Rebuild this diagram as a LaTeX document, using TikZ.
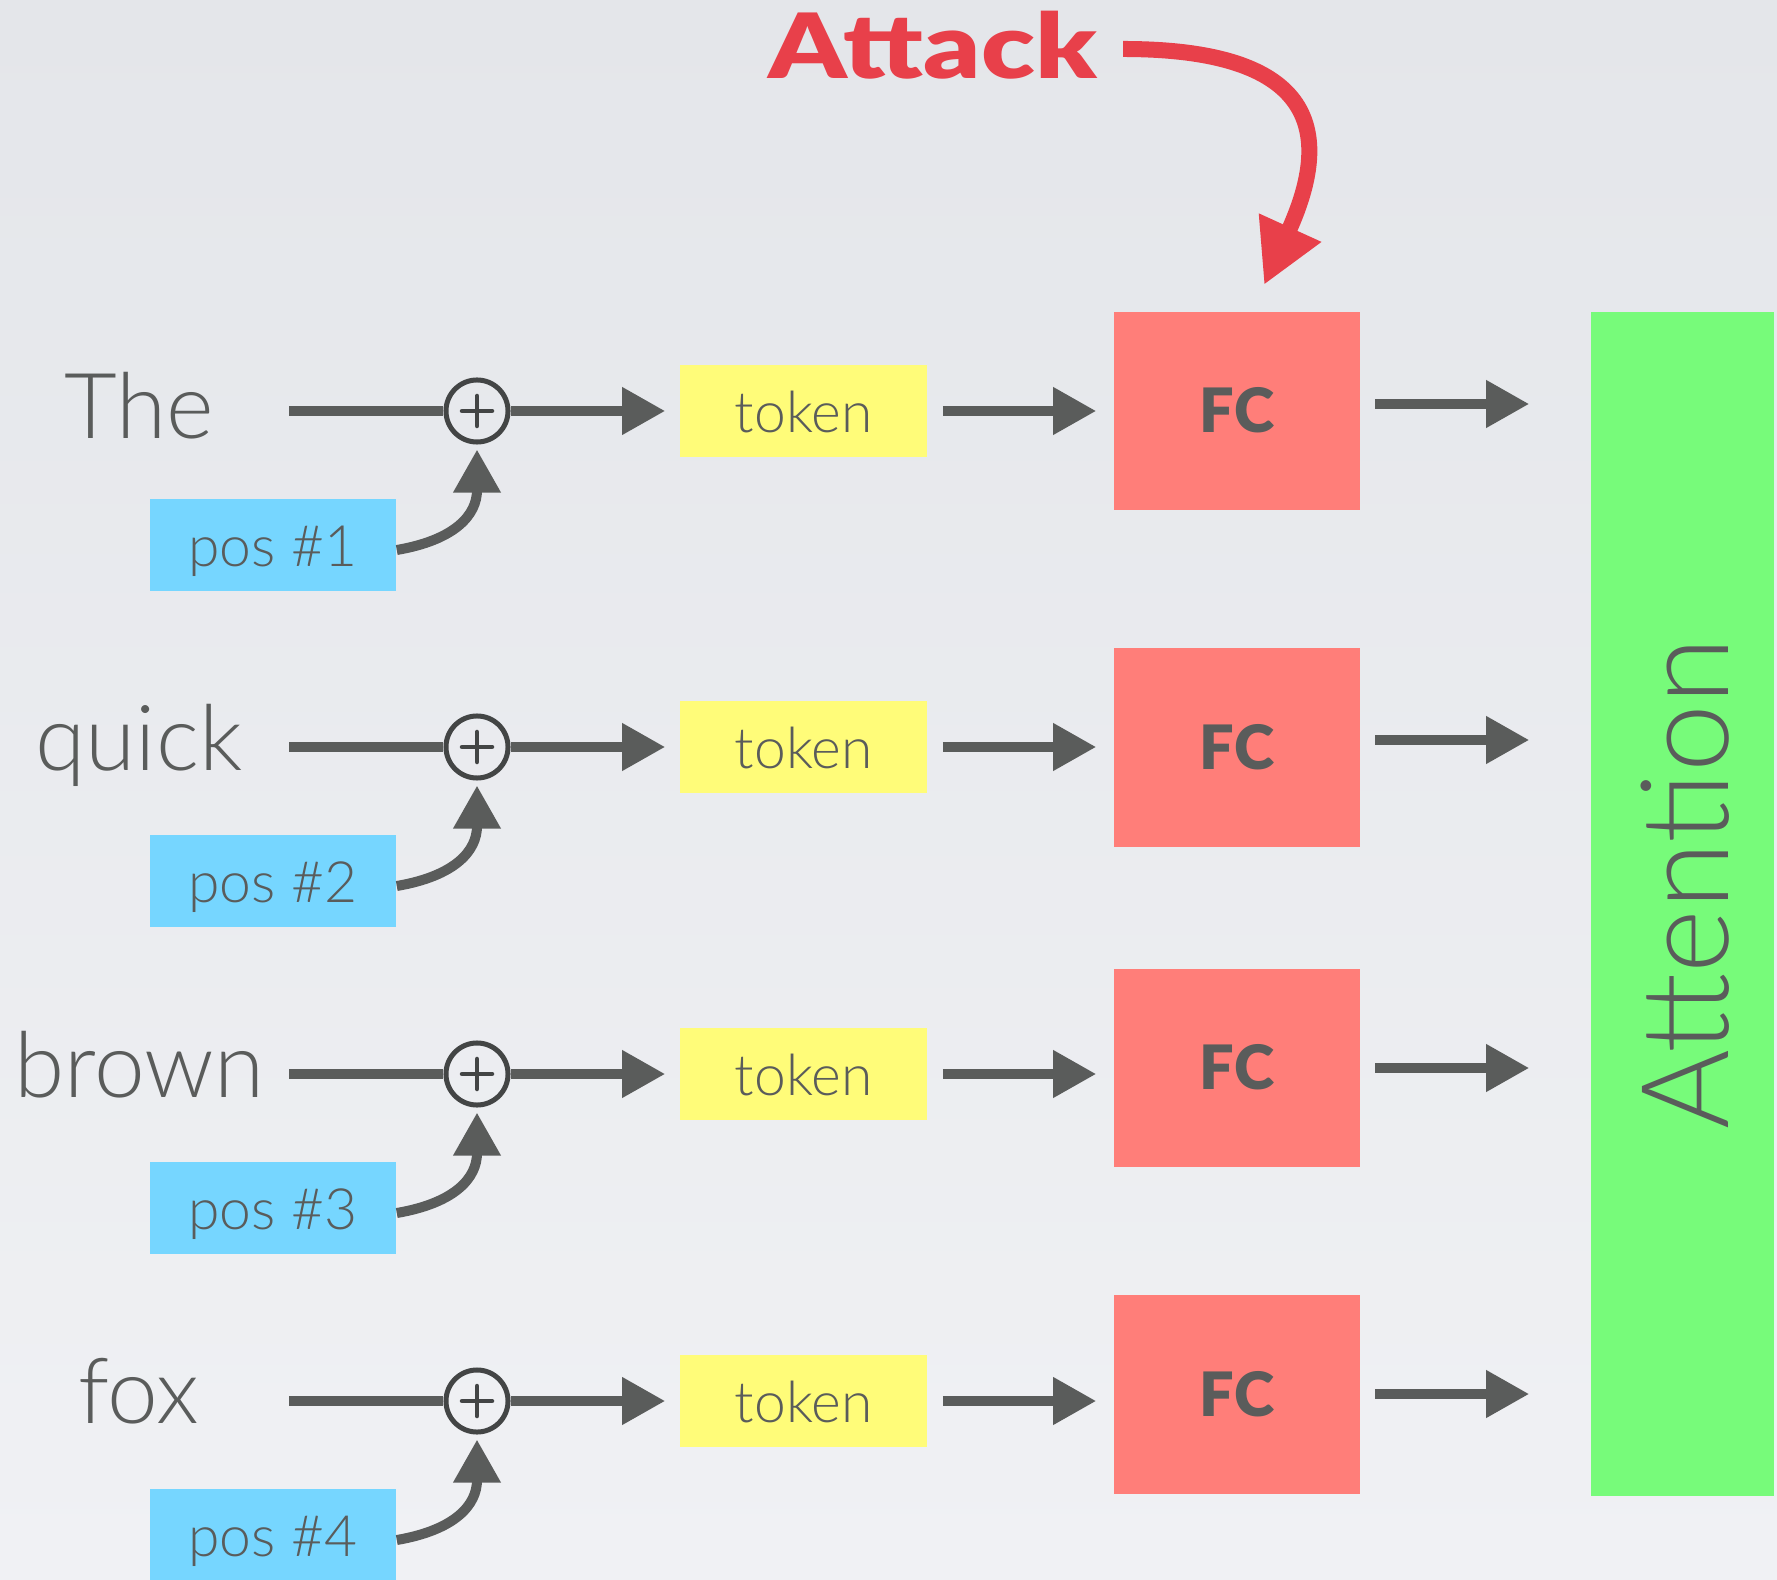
\documentclass[tikz,border=0pt]{standalone}
\usepackage{graphicx}
\usepackage{fontspec}
\setmainfont{Lato Light}
\newfontfamily\blackfont{Lato Black}
\usetikzlibrary{arrows.meta}

\definecolor{ink}{HTML}{5A5C5B}
\definecolor{ringink}{HTML}{434545}
\definecolor{tokfill}{HTML}{FFFC79}
\definecolor{posfill}{HTML}{76D6FF}
\definecolor{fcfill}{HTML}{FF7E79}
\definecolor{attfill}{HTML}{77FB7A}
\definecolor{attackred}{HTML}{E8404A}
\definecolor{bgtop}{HTML}{E4E6EA}
\definecolor{bgbot}{HTML}{F0F1F4}

\tikzset{
  wordlabel/.style={anchor=base, text=ink, inner sep=0pt, font=\fontsize{25.9}{30}\selectfont},
  tokenbox/.style={rectangle, fill=tokfill, minimum width=2.47cm, minimum height=0.92cm,
    inner sep=0pt, text height=12.5pt, text depth=0pt, text=ink, font=\fontsize{16.2}{19}\selectfont},
  posbox/.style={tokenbox, fill=posfill, minimum width=2.46cm},
  fcbox/.style={rectangle, fill=fcfill, minimum width=2.46cm, minimum height=1.98cm,
    inner sep=0pt, text height=12.3pt, text depth=0pt, text=ink, font=\blackfont\fontsize{17.4}{19}\selectfont},
  attbox/.style={rectangle, fill=attfill, minimum width=1.83cm, minimum height=11.84cm, inner sep=0pt},
  attlabel/.style={anchor=base, rotate=90, text=ink, inner sep=0pt, font=\fontsize{34.6}{40}\selectfont},
  attacklabel/.style={anchor=base, text=attackred, inner sep=0pt, font=\blackfont\fontsize{25.6}{30}\selectfont},
  sumnode/.style={circle, draw=ringink, line width=0.05cm, minimum size=0.62cm, inner sep=0pt},
  plusbar/.style={draw=ringink, line width=0.045cm, line cap=round},
  feed/.style={draw=ink, line width=0.10cm},
  flow/.style={feed, -{Triangle[length=0.43cm, width=0.45cm]}},
  attackarrow/.style={draw=attackred, line width=0.16cm, -{Triangle[length=0.63cm, width=0.64cm]}},
}

\begin{document}
\begin{tikzpicture}[x=0.01cm, y=-0.01cm]
\useasboundingbox (0,0) rectangle (1777,1580);
\clip (0,0) rectangle (1777,1580);
\shade[top color=bgtop, bottom color=bgbot] (0,0) rectangle (1777,1580);

% attention block
\node[attbox] (att) at (1682.5,904) {};
\node[attlabel] (attxt) at (1728,884) {Attention};

% rows: index / row y / word / word baseline / FC centre y / output arrow y
\foreach \i/\r/\w/\wb/\fy/\oy in {1/411/The/439/411/404, 2/747/quick/771/747.5/740,
                                  3/1074/brown/1097/1068/1068, 4/1401/fox/1423/1394.5/1394}{
  \node[wordlabel] (w\i) at (139,\wb) {\w};
  \coordinate (s\i) at (289,\r);
  \node[sumnode] (c\i) at (477,\r) {};
  \draw[plusbar] ([xshift=-0.15cm]c\i.center) -- ([xshift=0.15cm]c\i.center);
  \draw[plusbar] ([yshift=-0.15cm]c\i.center) -- ([yshift=0.15cm]c\i.center);
  \node[tokenbox] (t\i) at (803.5,\r) {token};
  \node[posbox] (p\i) at (273,\r+134) {pos \#\i};
  \node[fcbox] (f\i) at (1237,\fy) {FC};
  \coordinate (o\i) at (1375,\oy);

  \draw[feed] (s\i) -- (c\i.west);
  \draw[flow, shorten >=0.14cm] (c\i.east) -- (t\i.west);
  \draw[flow, shorten <=0.15cm, shorten >=0.17cm] (t\i.east) -- (t\i.east -| f\i.west);
  \draw[flow, shorten >=0.61cm] (o\i) -- (att.west |- o\i);
  \draw[flow, shorten >=0.05cm] ([yshift=-0.05cm]p\i.east)
    .. controls (455,\r+129) and (477,\r+104) .. (c\i.south);
}

% attack label and its arrow onto the first FC block
\node[attacklabel] (atk) at (932.5,79) {\scalebox{1.23}[1]{Attack}};
\coordinate (atkfrom) at (1123,49);
\coordinate (atkto) at (1264,285);
\draw[attackarrow] (atkfrom) .. controls (1300,49) and (1340,118) .. (atkto);
\end{tikzpicture}
\end{document}
